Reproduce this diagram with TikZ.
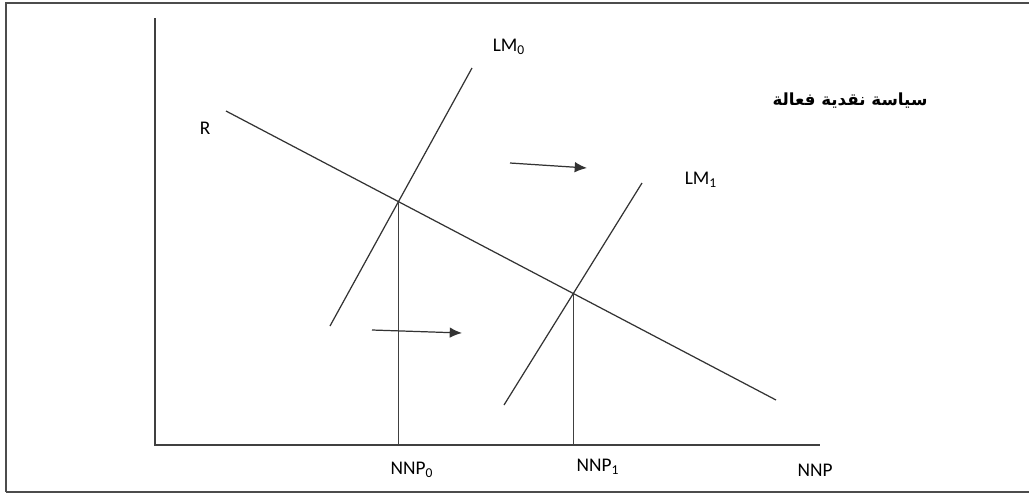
\documentclass[tikz,border=0pt]{standalone}
\usepackage{fontspec}
\setmainfont{Carlito}
\newfontfamily\arabicfont[Script=Arabic]{DejaVu Sans}
\TeXXeTstate=1
\usetikzlibrary{calc,arrows.meta,intersections}

\begin{document}
\begin{tikzpicture}[x=0.02cm, y=-0.02cm, >={Latex[length=7pt,width=6pt]},
		curve/.style={line width=0.7pt, black!80},
		axis/.style={line width=0.7pt, black!75},
		lbl/.style={inner sep=0pt, font=\fontsize{11}{13}\selectfont}]
		\useasboundingbox (0,0) rectangle (1029,495);

		% Frame
		\draw[line width=0.9pt, black!70] (1029,3) -- (6,3) -- (6,492);
		\draw[line width=1.4pt, black!70] (6,492) -- (1029,492);

		% Axes
		\coordinate (o) at (155,445);
		\coordinate (ytop) at (155,18);
		\coordinate (xend) at (820,445);
		\draw[axis] (ytop) -- (o) -- (xend);

		% IS and LM curves
		\coordinate (is0) at (226,111);
		\coordinate (is1) at (776,400);
		\coordinate (lma) at (330,326);
		\coordinate (lmb) at (472,68);
		\coordinate (lmc) at (504,405);
		\coordinate (lmd) at (642,183);
		\draw[curve, name path=is] (is0) -- (is1);
		\draw[curve, name path=lm0] (lma) -- (lmb);
		\draw[curve, name path=lm1] (lmc) -- (lmd);

		% Equilibria
		\path[name intersections={of=is and lm0, by=e0}];
		\path[name intersections={of=is and lm1, by=e1}];
		\draw[axis] (e0) -- (e0 |- o);
		\draw[axis] (e1) -- (e1 |- o);

		% Shift arrows
		\coordinate (sa0) at (510,163);
		\coordinate (sa1) at (587,168);
		\coordinate (sb0) at (372,330);
		\coordinate (sb1) at (462,333);
		\draw[->, curve] (sa0) -- (sa1);
		\draw[->, curve] (sb0) -- (sb1);

		% Labels
		\node[lbl] (r) at (205,128) {R};
		\node[lbl] (lm0l) at (509,47) {LM\textsubscript{0}};
		\node[lbl] (lm1l) at (701,180) {LM\textsubscript{1}};
		\node[lbl] (n0) at (412,470) {NNP\textsubscript{0}};
		\node[lbl] (n1) at (598,467) {NNP\textsubscript{1}};
		\node[lbl] (n) at (815,470) {NNP};
		\node[inner sep=0pt, font=\fontsize{9.5}{11}\selectfont\bfseries] (policy) at (850,101)
			{\arabicfont\beginR سياسة نقدية فعالة\endR};
	\end{tikzpicture}
\end{document}
